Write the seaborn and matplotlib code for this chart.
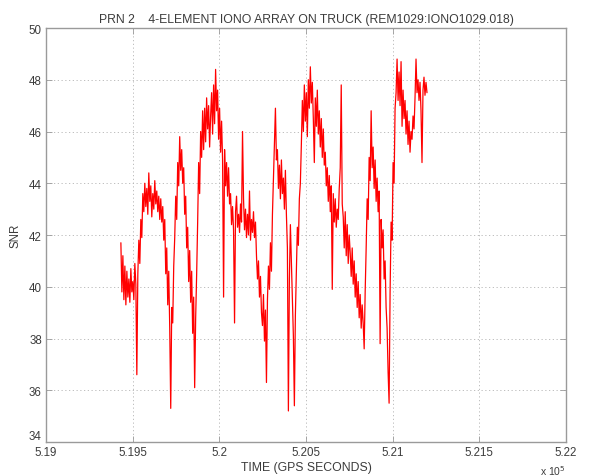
import numpy as np
import pandas as pd
import matplotlib
matplotlib.use("Agg")
import matplotlib.pyplot as plt
import seaborn as sns
from matplotlib.ticker import FixedLocator, FixedFormatter

# Tracking window (GPS seconds) and SNR samples for PRN 2
t_start = 519432.0
t_end = 521198.0
snr = [
    41.7, 39.8, 41.2, 39.5, 40.8, 39.3,
    40.6, 39.6, 40.3, 39.4, 40.7, 39.8, 40.2, 39.5, 40.9, 40.1,
    36.6,
    40.5, 41.8, 40.9, 42.6, 41.9, 43.6,
    42.9, 44.0, 43.1, 43.8, 42.8, 44.4, 43.3, 43.9, 42.7, 43.6,
    43.0, 44.1, 43.2, 43.7, 42.9, 43.5, 42.6, 43.4, 42.5, 43.1,
    41.8, 42.6, 40.5, 41.5, 39.3, 40.6, 38.4, 35.3, 39.2, 38.6, 40.8,
    41.9, 43.5, 42.6, 44.8, 43.9, 45.8, 44.5, 45.3, 44.0,
    44.6, 42.8, 43.5, 41.5, 42.3, 40.2, 41.4, 39.4, 40.6, 38.2, 39.6, 36.1, 38.8, 40.5,
    42.5, 44.8, 43.6, 46.0, 45.0, 46.8,
    45.3, 46.9, 45.6, 47.3, 46.1, 47.0, 45.4, 46.6, 47.5, 45.9,
    47.8, 46.3, 48.4, 46.8, 47.6, 45.7, 46.9, 45.2, 46.4, 44.9,
    39.6, 45.3, 43.9, 44.8, 43.5, 44.6, 43.2,
    43.6, 42.4, 43.1, 42.2, 38.6, 42.9, 43.5, 42.3, 42.8, 42.1, 43.2, 42.5, 46.0,
    43.4, 42.2, 43.0, 41.9, 42.8, 42.0, 43.7, 41.8, 42.6, 42.1, 42.9, 41.9, 42.5,
    41.2, 40.3, 41.0, 39.6, 40.4, 39.0, 38.5, 39.7, 37.9, 39.1, 36.3, 39.5, 40.8,
    39.9, 41.7, 40.6, 42.8,
    44.2, 45.6, 46.9, 44.9, 45.3, 43.8, 44.7, 43.4, 44.9, 43.6, 44.2, 43.0, 44.5, 42.8,
    41.5, 35.2, 40.3, 42.4, 41.0, 39.6, 38.1, 35.4, 38.9, 40.7,
    42.3, 41.6, 43.4, 44.0,
    45.5, 47.2, 46.0, 47.8, 46.4, 47.5, 45.8, 48.0, 46.9, 48.5, 47.1, 47.9,
    46.5, 44.8, 47.3, 46.2, 47.6, 45.9, 46.8, 45.4, 46.5, 45.0, 46.1, 44.7,
    45.2, 43.9, 44.6, 43.3, 44.3, 42.9, 43.9, 39.9, 43.6, 42.5, 43.4, 42.3,
    43.0, 42.6, 43.8, 44.6, 47.8, 43.2,
    42.7, 41.5, 42.9, 41.2, 42.4, 40.9, 42.0, 41.3, 40.4, 41.5, 40.1, 41.0,
    39.6, 40.5, 39.2, 40.2, 38.8, 39.7, 38.4, 39.3, 38.6, 37.6, 39.8,
    41.5, 43.4, 42.6, 45.0, 44.1, 46.8,
    44.6, 45.4, 43.8, 44.9, 43.3, 44.2, 42.9, 43.7, 37.8, 42.6, 41.5, 42.2,
    40.3, 41.0, 39.2, 38.4, 36.7, 35.5,
    39.8, 42.5, 41.8, 44.8, 44.0, 46.9,
    47.5, 48.8, 47.2, 48.3, 47.0, 48.7,
    46.2, 47.6, 46.5, 47.2, 45.9, 46.8, 45.5, 46.4, 45.2, 46.0, 45.7, 46.6, 46.1,
    47.3, 48.8, 47.5, 48.0, 47.2, 47.9, 46.8, 44.8, 47.6, 48.1, 47.4, 47.9, 47.5,
]

x_ticks = [519000, 519500, 520000, 520500, 521000, 521500, 522000]
x_tick_labels = ["5.19", "5.195", "5.2", "5.205", "5.21", "5.215", "5.22"]
y_ticks = [34, 36, 38, 40, 42, 44, 46, 48, 50]

df = pd.DataFrame({
    "time": np.linspace(t_start, t_end, len(snr)),
    "snr": snr,
})

sns.set_theme(style="white")
plt.rcParams["font.family"] = ["Liberation Sans", "DejaVu Sans"]

text_color = "#3c3c3c"
frame_color = "#9a9a9a"

fig = plt.figure(figsize=(5.92, 4.77), dpi=100)
ax = fig.add_axes([46 / 592, 1 - 443 / 477, 520 / 592, 414 / 477])

sns.lineplot(data=df, x="time", y="snr", ax=ax, color="#ff0000",
             linewidth=0.9, estimator=None, sort=False)

ax.set_xlim(519000, 522000)
ax.set_ylim(34, 50)
ax.xaxis.set_major_locator(FixedLocator(x_ticks))
ax.xaxis.set_major_formatter(FixedFormatter(x_tick_labels))
ax.set_yticks(y_ticks)

ax.grid(True, linestyle=(0, (1.5, 3)), color="#b4b4b4", linewidth=0.6)
ax.set_axisbelow(True)
for side in ax.spines.values():
    side.set_color(frame_color)
    side.set_linewidth(1.0)

ax.tick_params(axis="both", direction="in", length=4, width=0.6,
               color=frame_color, labelsize=8.3, labelcolor=text_color,
               top=True, right=True, bottom=True, left=True, pad=3)

# lift the lowest y label so it clears the first x label
fig.canvas.draw()
ax.get_yticklabels()[0].set_verticalalignment("bottom")

ax.set_title("PRN 2    4-ELEMENT IONO ARRAY ON TRUCK (REM1029:IONO1029.018)",
             fontsize=8.8, color=text_color, pad=4)
ax.set_xlabel("TIME (GPS SECONDS)", fontsize=8.8, color=text_color, labelpad=2)
ax.set_ylabel("SNR", fontsize=8.3, color=text_color, labelpad=5)

ax.text(1.0, -0.052, r"x 10$^5$", transform=ax.transAxes, ha="right",
        va="top", fontsize=7.5, color=text_color)

fig.savefig("out.png", dpi=100, facecolor="white")
